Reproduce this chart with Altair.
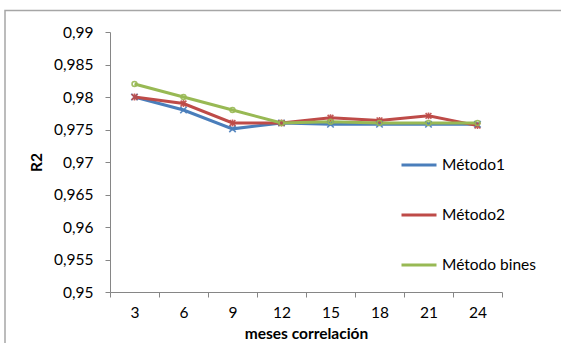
import altair as alt
import pandas as pd

meses = ["3", "6", "9", "12", "15", "18", "21", "24"]
metodo1 = [0.9800, 0.9780, 0.9751, 0.9760, 0.9758, 0.9758, 0.9758, 0.9758]
metodo2 = [0.9800, 0.9790, 0.9760, 0.9760, 0.9768, 0.9764, 0.9771, 0.9756]
bines = [0.9820, 0.9800, 0.9780, 0.9760, 0.9762, 0.9760, 0.9760, 0.9760]
series = ["Método1", "Método2", "Método bines"]
colors = ["#4a7ebb", "#be4b48", "#98b954"]

rows = []
for name, vals in zip(series, [metodo1, metodo2, bines]):
    for i, (m, v) in enumerate(zip(meses, vals)):
        rows.append({"meses": m, "idx": i, "r2": v, "serie": name, "serie_p": name})
df = pd.DataFrame(rows)

font = "Lato"
fs = 15.5
xshape = "M-1,-1L1,1M1,-1L-1,1"
starshape = "M-1,-1L1,1M1,-1L-1,1M0,-1.2L0,1.2"

x = alt.X("meses:N", sort=meses, title="meses correlación",
          scale=alt.Scale(paddingInner=0, paddingOuter=0),
          axis=alt.Axis(labelAngle=0, tickBand="extent", labelPadding=8,
                        titlePadding=6))
y = alt.Y("r2:Q", title="R2",
          scale=alt.Scale(domain=[0.95, 0.99], nice=False, zero=False),
          axis=alt.Axis(values=[0.95 + 0.005 * i for i in range(9)],
                        labelExpr="replace(format(datum.value, '.3~f'), '.', ',')",
                        grid=False, labelPadding=12, titlePadding=9))
color = alt.Color("serie:N", sort=series,
                  scale=alt.Scale(domain=series, range=colors),
                  legend=alt.Legend(title=None, orient="none", legendX=290, legendY=114,
                                    symbolType="stroke", symbolSize=1225,
                                    symbolStrokeWidth=3, labelFontSize=fs,
                                    rowPadding=22, labelOffset=4, labelFont=font,
                                    labelColor="#000000"))

base = alt.Chart(df)
lines = base.mark_line(strokeWidth=3).encode(x=x, y=y, color=color,
                                             order=alt.Order("idx:Q"))

points = base.mark_point(filled=False, strokeWidth=1.6, opacity=0.9).encode(
    x=x, y=y,
    color=alt.Color("serie_p:N", sort=series, scale=alt.Scale(domain=series, range=colors), legend=None),
    shape=alt.Shape("serie_p:N", sort=series,
                    scale=alt.Scale(domain=series, range=[xshape, starshape, "circle"]),
                    legend=None),
    size=alt.Size("serie_p:N", sort=series,
                  scale=alt.Scale(domain=series, range=[42, 24, 14]), legend=None),
)

border = alt.Chart(pd.DataFrame({"a": [0]})).mark_rect(
    fill="transparent", stroke="#a6a6a6", strokeWidth=1.5
).encode(x=alt.value(-105), x2=alt.value(460), y=alt.value(-21.5), y2=alt.value(330))

chart = alt.layer(border, lines, points).resolve_scale(
    color="independent", shape="independent", size="independent"
).properties(
    width=392, height=260,
    background="white",
    autosize=alt.AutoSizeParams(type="none"),
    padding={"left": 110, "top": 32, "right": 59, "bottom": 51},
).configure_view(stroke=None).configure_axis(
    domainColor="#868686", tickColor="#868686", tickSize=5,
    labelFont=font, labelFontSize=fs, labelColor="#000000",
    titleFont=font, titleFontSize=fs, titleFontWeight="bold", titleColor="#000000",
)

chart.save("out.html", embed_options={"renderer": "svg", "actions": False})
